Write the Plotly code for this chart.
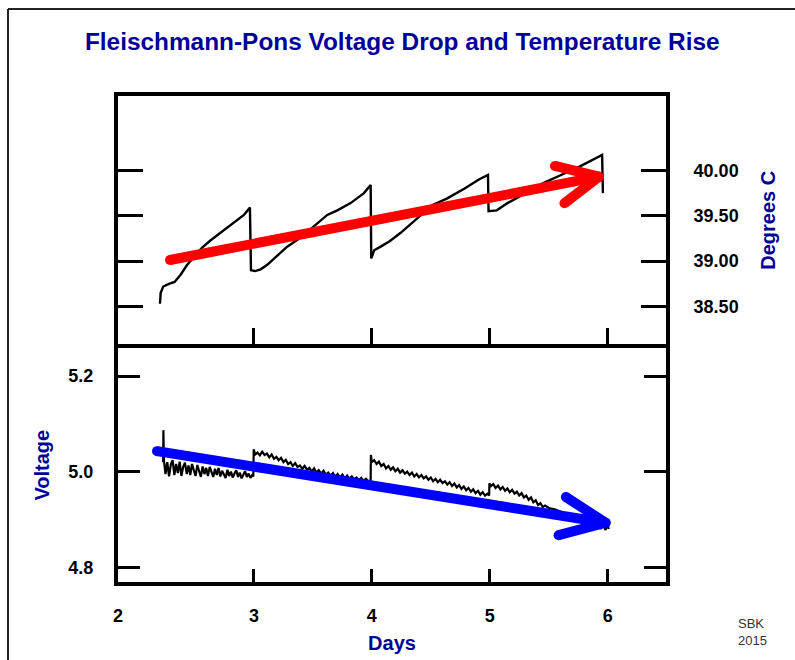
import plotly.graph_objects as go

# ---------------- data ----------------
TITLE = "Fleischmann-Pons Voltage Drop and Temperature Rise"

# Temperature (top panel)
TEMP_DAYS = [2.203, 2.209, 2.231, 2.279, 2.327, 2.378, 2.434, 2.506, 2.561, 2.633, 2.746, 2.845, 2.915, 2.966,
             2.975, 3.010, 3.057, 3.113, 3.198, 3.282, 3.396, 3.509, 3.622, 3.707, 3.820, 3.933, 3.990,
             3.995, 4.020, 4.075, 4.151, 4.242, 4.363, 4.515, 4.636, 4.787, 4.908, 4.985,
             4.990, 5.060, 5.151, 5.272, 5.454, 5.605, 5.757, 5.953, 5.960]
TEMP_C = [38.53, 38.65, 38.72, 38.75, 38.77, 38.85, 38.96, 39.07, 39.15, 39.23, 39.34, 39.44, 39.51, 39.59,
          38.90, 38.89, 38.91, 38.96, 39.06, 39.16, 39.26, 39.38, 39.51, 39.56, 39.64, 39.75, 39.84,
          39.03, 39.12, 39.16, 39.22, 39.31, 39.45, 39.62, 39.69, 39.80, 39.90, 39.95,
          39.55, 39.56, 39.64, 39.73, 39.86, 39.95, 40.04, 40.17, 39.75]

# Voltage (bottom panel)
VOLT_DAYS = [2.230, 2.232, 2.236, 2.250, 2.265, 2.280, 2.295, 2.310, 2.325, 2.340, 2.355, 2.370, 2.385, 2.400,
             2.415, 2.430, 2.445, 2.460, 2.475, 2.490, 2.505, 2.520, 2.535, 2.550, 2.565, 2.580, 2.595, 2.610,
             2.625, 2.640, 2.655, 2.670, 2.685, 2.700, 2.715, 2.730, 2.745, 2.760, 2.775, 2.790, 2.805, 2.820,
             2.835, 2.850, 2.865, 2.880, 2.895, 2.910, 2.925, 2.940, 2.955, 2.970, 2.985, 2.995,
             2.998, 3.010, 3.030, 3.050, 3.070, 3.090, 3.110, 3.130, 3.150, 3.170, 3.190, 3.210, 3.230, 3.250,
             3.270, 3.290, 3.310, 3.330, 3.350, 3.370, 3.390, 3.410, 3.430, 3.450, 3.470, 3.490, 3.510, 3.530,
             3.550, 3.570, 3.590, 3.610, 3.630, 3.650, 3.670, 3.690, 3.710, 3.730, 3.750, 3.770, 3.790, 3.810,
             3.830, 3.850, 3.870, 3.890, 3.910, 3.930, 3.950, 3.970, 3.985, 3.990,
             3.992, 4.000, 4.020, 4.040, 4.060, 4.080, 4.100, 4.120, 4.140, 4.160, 4.180, 4.200, 4.220, 4.240,
             4.260, 4.280, 4.300, 4.320, 4.340, 4.360, 4.380, 4.400, 4.420, 4.440, 4.460, 4.480, 4.500, 4.520,
             4.540, 4.560, 4.580, 4.600, 4.620, 4.640, 4.660, 4.680, 4.700, 4.720, 4.740, 4.760, 4.780, 4.800,
             4.820, 4.840, 4.860, 4.880, 4.900, 4.920, 4.940, 4.960, 4.980, 4.990, 4.995,
             4.997, 5.010, 5.030, 5.050, 5.070, 5.090, 5.110, 5.130, 5.150, 5.170, 5.190, 5.210, 5.230, 5.250,
             5.270, 5.290, 5.310, 5.330, 5.350, 5.370, 5.390, 5.410, 5.430, 5.450, 5.470, 5.500, 5.550, 5.590,
             5.650, 5.700, 5.750, 5.800, 5.850, 5.900, 5.920, 5.940, 5.960, 5.980, 6.000, 6.010]
VOLT_V = [5.020, 5.087, 5.025, 4.995, 5.020, 4.990, 5.015, 5.024, 4.993, 5.016, 4.997, 5.021, 4.991, 5.010,
          5.019, 4.995, 5.013, 4.993, 5.016, 5.003, 4.991, 5.014, 4.999, 4.989, 5.011, 4.995, 5.008, 4.991,
          5.010, 4.997, 4.989, 5.006, 4.993, 5.008, 4.990, 5.002, 4.995, 4.987, 5.004, 4.991, 5.000, 4.988,
          4.996, 5.003, 4.989, 4.998, 4.986, 4.994, 5.001, 4.989, 4.996, 4.987, 4.993, 4.990,
          5.047, 5.036, 5.040, 5.034, 5.042, 5.035, 5.038, 5.030, 5.036, 5.027, 5.031, 5.024, 5.029, 5.020,
          5.025, 5.016, 5.020, 5.012, 5.018, 5.010, 5.013, 5.006, 5.012, 5.004, 5.008, 5.000, 5.007, 4.998,
          5.003, 4.996, 5.002, 4.994, 4.998, 4.991, 4.997, 4.989, 4.995, 4.988, 4.994, 4.986, 4.992, 4.985,
          4.990, 4.984, 4.988, 4.982, 4.987, 4.981, 4.985, 4.980, 4.983, 4.982,
          5.035, 5.020, 5.024, 5.016, 5.021, 5.012, 5.016, 5.007, 5.012, 5.004, 5.009, 5.001, 5.006, 4.998,
          5.003, 4.996, 5.000, 4.993, 4.998, 4.990, 4.995, 4.988, 4.993, 4.986, 4.990, 4.983, 4.988, 4.980,
          4.985, 4.978, 4.983, 4.976, 4.980, 4.973, 4.978, 4.970, 4.975, 4.967, 4.972, 4.964, 4.969, 4.961,
          4.966, 4.958, 4.963, 4.955, 4.960, 4.952, 4.957, 4.950, 4.954, 4.950, 4.950,
          4.976, 4.970, 4.974, 4.966, 4.971, 4.963, 4.968, 4.960, 4.965, 4.957, 4.962, 4.954, 4.958, 4.950,
          4.955, 4.946, 4.950, 4.941, 4.946, 4.936, 4.940, 4.930, 4.934, 4.926, 4.929, 4.924, 4.921, 4.918,
          4.912, 4.907, 4.902, 4.897, 4.893, 4.889, 4.895, 4.880, 4.892, 4.878, 4.888, 4.880]

# Trend arrows (shaft, then chevron head), in data units
TEMP_TREND_DAYS = [2.288, 5.926, None, 5.553, 5.926, 5.634]
TEMP_TREND_C = [39.013, 39.931, None, 40.05, 39.931, 39.638]
VOLT_TREND_DAYS = [2.178, 5.983, None, 5.646, 5.983, 5.584]
VOLT_TREND_V = [5.043, 4.893, None, 4.947, 4.893, 4.867]

# Axes
DAY_RANGE = [1.847, 6.495]
DAY_TICKS = [1.847, 3, 4, 5, 6]
DAY_TICK_TEXT = ["2", "3", "4", "5", "6"]
TEMP_RANGE = [38.081, 40.821]
TEMP_TICKS = [38.5, 39.0, 39.5, 40.0]
VOLT_RANGE = [4.769, 5.258]
VOLT_TICKS = [4.8, 5.0, 5.2]

FONT = "Liberation Sans, Arial, sans-serif"
BLUE_TXT = "#000099"

fig = go.Figure()
fig.add_trace(go.Scatter(x=TEMP_DAYS, y=TEMP_C, mode="lines", xaxis="x", yaxis="y",
                         line=dict(color="black", width=2.4), hoverinfo="skip"))
fig.add_trace(go.Scatter(x=VOLT_DAYS, y=VOLT_V, mode="lines", xaxis="x2", yaxis="y2",
                         line=dict(color="black", width=2.2), hoverinfo="skip"))
fig.add_trace(go.Scatter(x=TEMP_TREND_DAYS, y=TEMP_TREND_C, mode="lines+markers", xaxis="x", yaxis="y",
                         line=dict(color="#FF0000", width=10), marker=dict(color="#FF0000", size=10),
                         connectgaps=False, hoverinfo="skip"))
fig.add_trace(go.Scatter(x=VOLT_TREND_DAYS, y=VOLT_TREND_V, mode="lines+markers", xaxis="x2", yaxis="y2",
                         line=dict(color="#0000FF", width=10), marker=dict(color="#0000FF", size=10),
                         connectgaps=False, hoverinfo="skip"))

tickfont = dict(family=FONT, size=18, color="black", weight="bold")
titlefont = dict(family=FONT, size=20, color=BLUE_TXT, weight="bold")

common = dict(showline=True, linewidth=4, linecolor="black", showgrid=False, zeroline=False,
              ticks="inside", tickwidth=3, tickcolor="black", automargin=False)

# slide frame (top and left edges visible in the reference)
FRAME_X0 = (8 - 118) / 548
FRAME_Y1 = (582 - 9) / 486

fig.update_layout(
    width=795, height=660,
    paper_bgcolor="white", plot_bgcolor="white",
    showlegend=False,
    margin=dict(l=118, r=129, t=96, b=78, autoexpand=False),
    title=dict(text=TITLE, x=0.506, y=1 - 41 / 660, xanchor="center", yanchor="middle",
               font=dict(family=FONT, size=24.4, color=BLUE_TXT, weight="bold")),
    xaxis=dict(domain=[0, 1], anchor="y", range=DAY_RANGE, tickvals=[3, 4, 5, 6], ticklen=16,
               showticklabels=False, mirror=True, **common),
    yaxis=dict(domain=[0.4887, 1], anchor="x", side="right", range=TEMP_RANGE, tickvals=TEMP_TICKS,
               tickformat=".2f", ticklen=25, mirror="ticks", tickfont=tickfont, ticklabelstandoff=20,
               title=dict(text="Degrees C", font=titlefont, standoff=24), **common),
    xaxis2=dict(domain=[0, 1], anchor="y2", range=DAY_RANGE, tickvals=DAY_TICKS, ticktext=DAY_TICK_TEXT,
                ticklen=13, mirror=True, tickfont=tickfont, ticklabelstandoff=14,
                title=dict(text="Days", font=titlefont, standoff=12), **common),
    yaxis2=dict(domain=[0, 0.4805], anchor="x2", side="left", range=VOLT_RANGE, tickvals=VOLT_TICKS,
                tickformat=".1f", ticklen=22, mirror="ticks", tickfont=tickfont, ticklabelstandoff=17,
                title=dict(text="Voltage", font=titlefont, standoff=14), **common),
    shapes=[dict(type="line", xref="paper", yref="paper", x0=FRAME_X0, x1=1.5, y0=FRAME_Y1, y1=FRAME_Y1,
                 line=dict(color="#222222", width=2), layer="below"),
            dict(type="line", xref="paper", yref="paper", x0=FRAME_X0, x1=FRAME_X0, y0=FRAME_Y1, y1=-0.5,
                 line=dict(color="#222222", width=2), layer="below")],
    annotations=[dict(text="SBK<br>2015", xref="paper", yref="paper", x=(736 - 118) / 548,
                      y=(582 - 632) / 486, xanchor="left", yanchor="middle", showarrow=False, align="left",
                      font=dict(family=FONT, size=13, color="#333333"))],
)

fig.write_html("out.html", config={"displayModeBar": False},
               post_script="document.body.style.margin='0';document.body.style.overflow='hidden';")
